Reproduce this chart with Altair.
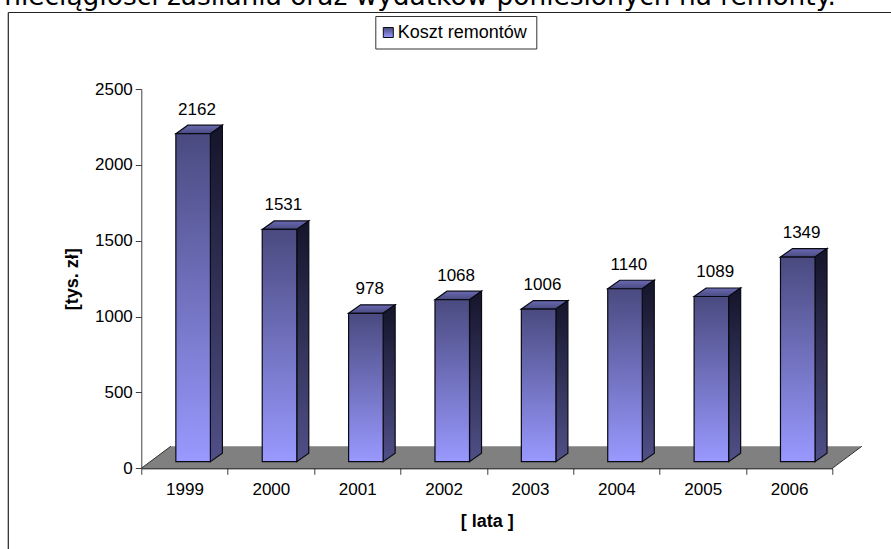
import altair as alt
import pandas as pd

# Annual renovation cost
years = ["1999", "2000", "2001", "2002", "2003", "2004", "2005", "2006"]
costs = [2162, 1531, 978, 1068, 1006, 1140, 1089, 1349]
series_name = "Koszt remontów"
caption = "nieciągłości zasilania oraz wydatków poniesionych na remonty."
y_ticks = [0, 500, 1000, 1500, 2000, 2500]

W, H = 691, 379.3
Y_MAX = 2500
K = H / Y_MAX  # pixels per value unit
STEP = W / len(years)

# Pseudo-3D geometry
LIFT_PX = 6.6
BAR_START, BAR_END = 0.40, 0.80
DEPTH_X = 12 / STEP
DEPTH_Y = 8.5 / K
LIFT = LIFT_PX / K
FLOOR_X = 29.5 / STEP
FLOOR_Y = 22 / K

x_scale = alt.Scale(domain=[0, len(years)], nice=False, zero=False)
y_scale = alt.Scale(domain=[0, Y_MAX], nice=False, zero=True)
FONT = "Liberation Sans"
EDGE = "#0a0a14"


def vgrad(top, bottom):
    return alt.Gradient(
        gradient="linear", x1=0, y1=0, x2=0, y2=1,
        stops=[alt.GradientStop(color=top, offset=0),
               alt.GradientStop(color=bottom, offset=1)],
    )


n = len(years)
floor = pd.DataFrame({
    "x": [0, FLOOR_X, n, n + FLOOR_X],
    "y": [0, FLOOR_Y, FLOOR_Y, FLOOR_Y],
    "y2": [0, 0, 0, FLOOR_Y],
})
floor_edges = pd.DataFrame({
    "x": [0, FLOOR_X, n, n + FLOOR_X],
    "y": [0, FLOOR_Y, 0, FLOOR_Y],
    "side": ["l", "l", "r", "r"],
})

front, side, top = [], [], []
for i, (yr, v) in enumerate(zip(years, costs)):
    a, b = i + BAR_START, i + BAR_END
    front.append({"year": yr, "cost": v, "x": a, "x2": b})
    h = LIFT + v
    side += [
        {"year": yr, "x": b, "y": h, "y2": LIFT},
        {"year": yr, "x": b + DEPTH_X, "y": h + DEPTH_Y, "y2": LIFT + DEPTH_Y},
    ]
    top += [
        {"year": yr, "x": a, "y": h, "y2": h},
        {"year": yr, "x": a + DEPTH_X, "y": h + DEPTH_Y, "y2": h},
        {"year": yr, "x": b, "y": h + DEPTH_Y, "y2": h},
        {"year": yr, "x": b + DEPTH_X, "y": h + DEPTH_Y, "y2": h + DEPTH_Y},
    ]
front, side, top = map(pd.DataFrame, (front, side, top))

# All layers share the y scale and carry the same axis definition
y_axis = alt.Axis(
    values=y_ticks, format="d", title="[tys. zł]", grid=False, zindex=1,
    domainColor="#404040", tickColor="#404040", tickSize=6,
    labelFont=FONT, labelFontSize=17, labelColor="#000000", labelPadding=3,
    titleFont=FONT, titleFontSize=18, titleFontWeight="bold",
    titleColor="#000000", titlePadding=13,
)
y_plain = alt.Y("y:Q", scale=y_scale, axis=y_axis)
x_plain = alt.X("x:Q", scale=x_scale, axis=None)

floor_layer = alt.Chart(floor).mark_area(color="#808080").encode(
    x=x_plain, y=y_plain, y2="y2:Q",
)
floor_line_layer = alt.Chart(floor_edges).mark_line(
    color="#303030", strokeWidth=1
).encode(x=x_plain, y=y_plain, detail="side:N")

top_layer = alt.Chart(top).mark_area(
    color=vgrad("#6a6ab4", "#4a4a80"), stroke=EDGE, strokeWidth=1.2
).encode(x=x_plain, y=y_plain, y2="y2:Q", detail="year:N")

side_layer = alt.Chart(side).mark_area(
    color=vgrad("#14142a", "#505088"), stroke=EDGE, strokeWidth=1.2
).encode(x=x_plain, y=y_plain, y2="y2:Q", detail="year:N")

front_layer = alt.Chart(front).mark_bar(
    color=vgrad("#4a4a80", "#9999ff"), stroke=EDGE, strokeWidth=1.2,
    yOffset=-LIFT_PX, y2Offset=-LIFT_PX,
).encode(
    x=x_plain,
    x2="x2:Q",
    y=alt.Y("cost:Q", scale=y_scale, axis=y_axis),
    y2=alt.datum(0),
)

label_layer = alt.Chart(front).mark_text(
    font=FONT, fontSize=17, color="#000000", baseline="middle",
    xOffset=12.5, yOffset=-LIFT_PX - 24,
).encode(
    x=alt.X(
        "year:N", sort=years,
        scale=alt.Scale(paddingInner=0, paddingOuter=0),
        axis=alt.Axis(
            title="[ lata ]", tickBand="extent", labelAngle=0, grid=False, zindex=1,
            domainColor="#000000", tickColor="#404040", tickSize=6,
            labelFont=FONT, labelFontSize=17, labelColor="#000000", labelPadding=7,
            titleFont=FONT, titleFontSize=18, titleFontWeight="bold",
            titleColor="#000000", titlePadding=15,
        ),
    ),
    y=alt.Y("cost:Q", scale=y_scale, axis=y_axis),
    text="cost:Q",
)

# Outer frame of the chart, open towards the right and bottom
frame_left = alt.Chart().mark_rule(color="#222222", strokeWidth=1.2).encode(
    x=alt.value(-133), y=alt.value(-76.5), y2=alt.value(470))
frame_top = alt.Chart().mark_rule(color="#222222", strokeWidth=1.2).encode(
    x=alt.value(-133), x2=alt.value(760), y=alt.value(-76.5))

# Legend box
legend_box = alt.Chart().mark_rect(
    fill="#ffffff", stroke="#333333", strokeWidth=1
).encode(x=alt.value(234.5), x2=alt.value(395.5), y=alt.value(-72.5), y2=alt.value(-40))
legend_swatch = alt.Chart().mark_rect(
    color=vgrad("#4a4a80", "#9999ff"), stroke=EDGE, strokeWidth=1
).encode(x=alt.value(242), x2=alt.value(252), y=alt.value(-61.5), y2=alt.value(-51.5))
legend_text = alt.Chart(pd.DataFrame({"t": [series_name]})).mark_text(
    font=FONT, fontSize=18, color="#000000", align="left", baseline="middle"
).encode(x=alt.value(256.5), y=alt.value(-56.5), text="t:N")

caption_text = alt.Chart(pd.DataFrame({"t": [caption]})).mark_text(
    font="DejaVu Sans", fontSize=26.4, color="#000000", align="left", baseline="alphabetic"
).encode(x=alt.value(-137), y=alt.value(-84), text="t:N")

chart = alt.layer(
    frame_left, frame_top, caption_text,
    floor_layer, floor_line_layer, top_layer, side_layer, front_layer, label_layer,
    legend_box, legend_swatch, legend_text,
).resolve_scale(x="independent").properties(
    width=W, height=H,
    padding={"left": 141.3, "top": 89, "right": 58.7, "bottom": 80.7},
    autosize=alt.AutoSizeParams(type="none"),
    background="#ffffff",
).configure_view(stroke=None)

chart.save("out.html", embed_options={"renderer": "svg", "actions": False})
